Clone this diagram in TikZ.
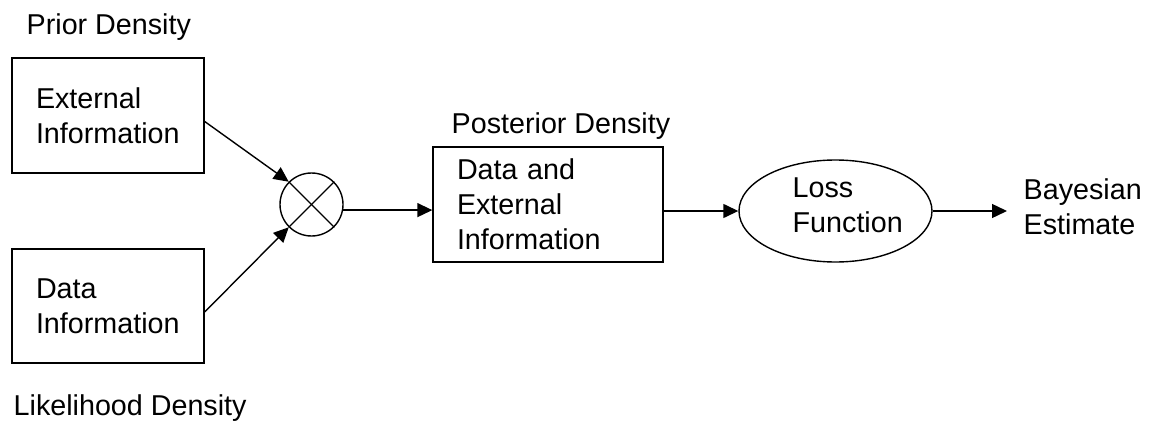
\documentclass[tikz,border=0pt]{standalone}
\usepackage{fontspec}
\setmainfont{Liberation Sans}
\usetikzlibrary{arrows.meta,calc,shapes.geometric}

\begin{document}
\begin{tikzpicture}[x=1pt,y=-1pt,line width=1.4pt,
  every node/.style={font=\fontsize{28.7}{35}\selectfont},
  lbl/.style={inner sep=0pt, anchor=base west},
  box/.style={draw, rectangle, align=left, inner xsep=24pt, inner ysep=0pt, text width=#1},
  box/.default=144pt,
  arr/.style={-{Triangle[length=15pt,width=14pt]}}
]
\useasboundingbox (0,0) rectangle (1152,428);

% input blocks
\node[box=144pt, minimum width=192pt, minimum height=115pt] (ext) at (108,115.5) {External\\Information};
\node[box=144pt, minimum width=192pt, minimum height=114pt] (dat) at (108,306) {Data\\Information};

% multiplier
\node[draw, circle, minimum size=63pt, inner sep=0pt] (mul) at (311.5,204.5) {};
\draw (mul.45) -- (mul.225);
\draw (mul.135) -- (mul.-45);

% posterior block
\node[box=182pt, minimum width=230pt, minimum height=115pt] (post) at (548,204.5) {Data and\\External\\Information};

% loss function
\node[draw, ellipse, minimum width=193pt, minimum height=102pt, inner sep=0pt] (loss) at (835.5,211) {};
\node[inner sep=0pt, anchor=west, align=left] (losstext) at (792,205) {Loss\\Function};

% output
\node[inner ysep=0pt, inner xsep=16pt, anchor=west, align=left] (est) at (1007,207) {Bayesian\\Estimate};

% labels
\node[lbl] (prior) at (26,35) {Prior Density};
\node[lbl] (like) at (13,415) {Likelihood Density};
\node[lbl] (postlbl) at (451,133) {Posterior Density};

% connectors
\draw[arr] ($(ext.east)+(0,6)$) -- (mul.135);
\draw[arr] ($(dat.east)+(0,6)$) -- (mul.225);
\draw[arr] (mul.-10) -- (mul.-10 -| post.west);
\draw[arr] (loss.west -| post.east) -- (loss.west);
\draw[arr] (loss.east) -- (loss.east -| est.west);
\end{tikzpicture}
\end{document}
